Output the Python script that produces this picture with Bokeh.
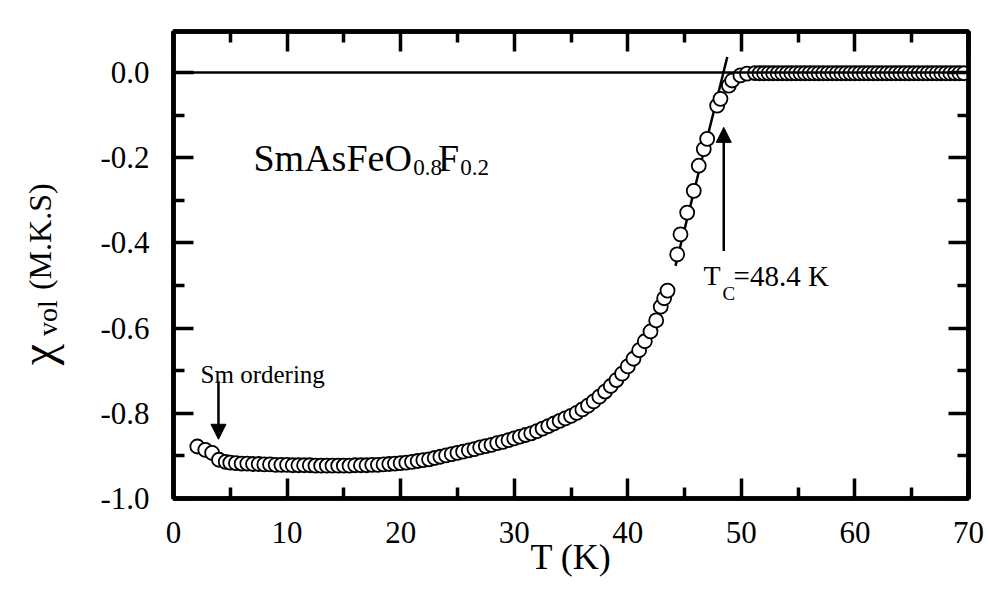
import numpy as np
from bokeh.plotting import figure
from bokeh.layouts import row
from bokeh.core.properties import value
from bokeh.models import (FixedTicker, LinearAxis, Span, Arrow, NormalHead, Label,
                          Range1d, CustomJSTickFormatter, PrintfTickFormatter)
from bokeh.embed import file_html
from bokeh.resources import INLINE

# ---------------- data ----------------
T_sm = [2.1, 2.8, 3.4, 4.0, 4.6]
chi_sm = [-0.878, -0.886, -0.893, -0.909, -0.914]

T_main = [5.0, 5.5, 6.0, 6.5, 7.0, 7.5, 8.0, 8.5, 9.0, 9.5,
          10.0, 10.5, 11.0, 11.5, 12.0, 12.5, 13.0, 13.5, 14.0, 14.5,
          15.0, 15.5, 16.0, 16.5, 17.0, 17.5, 18.0, 18.5, 19.0, 19.5,
          20.0, 20.5, 21.0, 21.5, 22.0, 22.5, 23.0, 23.5, 24.0, 24.5,
          25.0, 25.5, 26.0, 26.5, 27.0, 27.5, 28.0, 28.5, 29.0, 29.5,
          30.0, 30.5, 31.0, 31.5, 32.0, 32.5, 33.0, 33.5, 34.0, 34.5,
          35.0, 35.5, 36.0, 36.5, 37.0, 37.5, 38.0, 38.5, 39.0, 39.5,
          40.0, 40.5, 41.0, 41.5, 42.0, 42.5, 42.9, 43.2, 43.5]
chi_main = [-0.916, -0.917, -0.918, -0.918, -0.919, -0.919, -0.920, -0.920, -0.921, -0.921,
            -0.921, -0.922, -0.922, -0.922, -0.922, -0.923, -0.923, -0.923, -0.923, -0.923,
            -0.923, -0.923, -0.922, -0.922, -0.922, -0.921, -0.921, -0.920, -0.919, -0.918,
            -0.917, -0.916, -0.914, -0.912, -0.910, -0.908, -0.905, -0.902, -0.899, -0.896,
            -0.893, -0.890, -0.887, -0.884, -0.880, -0.877, -0.874, -0.870, -0.867, -0.863,
            -0.859, -0.855, -0.851, -0.847, -0.842, -0.836, -0.830, -0.824, -0.818, -0.812,
            -0.806, -0.799, -0.791, -0.782, -0.772, -0.761, -0.749, -0.736, -0.722, -0.707,
            -0.690, -0.672, -0.652, -0.631, -0.608, -0.582, -0.550, -0.530, -0.512]

T_trans = [44.35, 44.64, 45.23, 45.81, 46.25, 46.69, 46.99, 47.87, 48.16, 48.90,
           49.19, 49.92, 50.50, 51.20]
chi_trans = [-0.427, -0.380, -0.329, -0.278, -0.219, -0.180, -0.156, -0.078, -0.062, -0.031,
             -0.019, -0.007, -0.003, -0.0015]

T_norm = [51.6, 52.0, 52.4, 52.8, 53.2, 53.6, 54.0, 54.4, 54.8, 55.2,
          55.6, 56.0, 56.4, 56.8, 57.2, 57.6, 58.0, 58.4, 58.8, 59.2,
          59.6, 60.0, 60.4, 60.8, 61.2, 61.6, 62.0, 62.4, 62.8, 63.2,
          63.6, 64.0, 64.4, 64.8, 65.2, 65.6, 66.0, 66.4, 66.8, 67.2,
          67.6, 68.0, 68.4, 68.8, 69.2, 69.6]
chi_norm = [-0.002, -0.002, -0.002, -0.002, -0.002, -0.002, -0.002, -0.002, -0.002, -0.002,
            -0.002, -0.002, -0.002, -0.002, -0.002, -0.002, -0.002, -0.002, -0.002, -0.002,
            -0.002, -0.002, -0.002, -0.002, -0.002, -0.002, -0.002, -0.002, -0.002, -0.002,
            -0.002, -0.002, -0.002, -0.002, -0.002, -0.002, -0.002, -0.002, -0.002, -0.002,
            -0.002, -0.002, -0.002, -0.002, -0.002, -0.002]

# linear fit through the transition (crosses zero at Tc)
fit_T = [44.2, 48.76]
fit_chi = [-0.454, 0.036]

x_major = [0, 10, 20, 30, 40, 50, 60, 70]
x_minor = [5, 15, 25, 35, 45, 55, 65]
x_labels = ["0", "10", "20", "30", "40", "50", "60", "70"]
y_major = [-1.0, -0.8, -0.6, -0.4, -0.2, 0.0]
y_minor = [-0.9, -0.7, -0.5, -0.3, -0.1]
y_labels = ["-1.0", "-0.8", "-0.6", "-0.4", "-0.2", "0.0"]

FONT = "Liberation Serif"

T_all = T_sm + T_main + T_trans + T_norm
chi_all = chi_sm + chi_main + chi_trans + chi_norm

LEFT_W = 75
p = figure(width=983 - LEFT_W, height=578, margin=(5, 0, 8, 0),
           x_range=Range1d(0, 70), y_range=Range1d(-1.0, 0.096),
           output_backend="svg", toolbar_location=None,
           min_border_left=167 - LEFT_W, min_border_right=21, min_border_top=26,
           min_border_bottom=85)
p.background_fill_color = "white"
p.border_fill_color = "white"
p.outline_line_color = "black"
p.outline_line_width = 4.5
p.xgrid.visible = False
p.ygrid.visible = False


def style_axis(ax, ticks, minor, with_labels, standoff):
    ax.ticker = FixedTicker(ticks=ticks, minor_ticks=minor)
    ax.axis_line_width = 4.5
    ax.axis_line_color = "black"
    ax.major_tick_in = 20
    ax.major_tick_out = 0
    ax.minor_tick_in = 11
    ax.minor_tick_out = 0
    ax.major_tick_line_width = 3.5
    ax.minor_tick_line_width = 3.5
    ax.major_tick_line_color = "black"
    ax.minor_tick_line_color = "black"
    ax.major_label_text_font = FONT
    ax.major_label_text_font_size = "31px"
    ax.major_label_text_color = "black"
    ax.major_label_standoff = standoff
    if not with_labels:
        ax.formatter = CustomJSTickFormatter(code="return ''")


xa = p.xaxis[0]
ya = p.yaxis[0]
style_axis(xa, x_major, x_minor, True, 23)
style_axis(ya, y_major, y_minor, True, 24)
xa.major_label_overrides = {t: s for t, s in zip(x_major, x_labels)}
ya.formatter = PrintfTickFormatter(format="%.1f")
ya.major_label_overrides = {t: s for t, s in zip(y_major, y_labels)}

xa.axis_label = "T (K)"
xa.axis_label_text_font = FONT
xa.axis_label_text_font_size = "36px"
xa.axis_label_text_font_style = "normal"
xa.axis_label_text_color = "black"
xa.axis_label_standoff = -9

top = LinearAxis()
style_axis(top, x_major, x_minor, False, 0)
p.add_layout(top, "above")
right = LinearAxis()
style_axis(right, y_major, y_minor, False, 0)
p.add_layout(right, "right")

# zero line and fit line
p.add_layout(Span(location=0.0, dimension="width", line_color="black", line_width=2.5))
p.line(fit_T, fit_chi, line_color="black", line_width=2.5)

# data
p.scatter(T_all, chi_all, marker="circle", size=14, fill_color="white",
          line_color="black", line_width=1.8)

# arrows
p.add_layout(Arrow(end=NormalHead(size=15, fill_color="black", line_color="black", line_width=1),
                   x_start=3.96, y_start=-0.725, x_end=3.96, y_end=-0.861,
                   line_color="black", line_width=2.5))
p.add_layout(Arrow(end=NormalHead(size=15, fill_color="black", line_color="black", line_width=1),
                   x_start=48.45, y_start=-0.419, x_end=48.45, y_end=-0.129,
                   line_color="black", line_width=2.5))


def lab(x, y, text, size, align="left"):
    p.add_layout(Label(x=x, y=y, text=text, text_font=FONT, text_font_size=size,
                       text_color="black", text_baseline="alphabetic", text_align=align))


# compound name
lab(7.04, -0.200, "SmAsFeO", "38px")
lab(21.10, -0.2235, "0.8", "23px")
lab(23.30, -0.200, "F", "38px")
lab(25.25, -0.2235, "0.2", "23px")

# Tc text
lab(46.67, -0.4776, "T", "28px")
lab(48.34, -0.520, "C", "19px")
lab(49.31, -0.4776, "=48.4 K", "29px")

# Sm ordering
lab(2.38, -0.708, "Sm ordering", "25px")

# ---------- left strip holding the rotated y-axis title ----------
q = figure(width=LEFT_W, height=578, margin=(5, 0, 8, 6),
           x_range=Range1d(0, LEFT_W), y_range=Range1d(578, 0),
           x_axis_type=None, y_axis_type=None,
           output_backend="svg", toolbar_location=None,
           min_border=0, min_border_left=0, min_border_right=0,
           min_border_top=0, min_border_bottom=0)
q.grid.visible = False
q.outline_line_color = None
q.background_fill_color = "white"
q.border_fill_color = "white"

q.text(x=[31], y=[413], text=["χ"], angle=np.pi / 2, text_font=value(FONT),
       text_font_size=value("48px"), text_baseline="alphabetic", text_align="left",
       text_color="black")
q.text(x=[41], y=[377], text=["vol"], angle=np.pi / 2, text_font=value(FONT),
       text_font_size=value("28px"), text_baseline="alphabetic", text_align="left",
       text_color="black")
q.text(x=[33], y=[320], text=["(M.K.S)"], angle=np.pi / 2, text_font=value(FONT),
       text_font_size=value("32px"), text_baseline="alphabetic", text_align="left",
       text_color="black")

layout = row(q, p)
html = file_html(layout, INLINE, title="chi vs T")
html = html.replace("<body", '<body style="margin:0;background-color:#e0ffff;"', 1)
open("out.html", "w").write(html)
